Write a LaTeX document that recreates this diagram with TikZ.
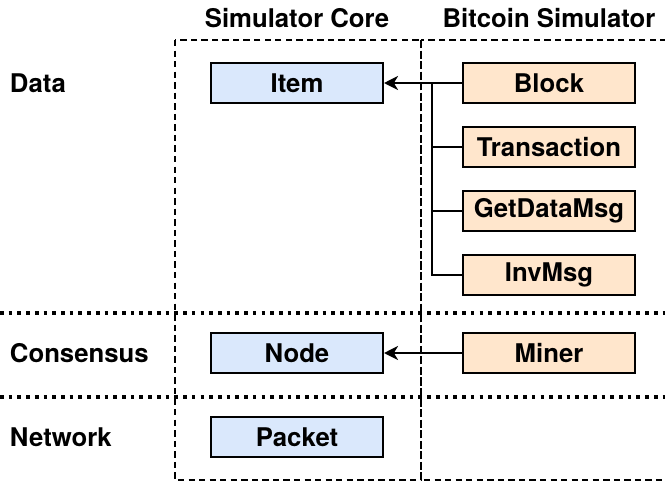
\documentclass[tikz,border=0pt]{standalone}
\usepackage{fontspec}
\setmainfont{TeX Gyre Heros}
\usepackage{tikz}
\usetikzlibrary{arrows.meta,positioning,calc}
\definecolor{coreblue}{RGB}{218,232,252}
\definecolor{btcorange}{RGB}{255,230,204}

\begin{document}
\begin{tikzpicture}[
    x=0.025cm, y=-0.025cm,
    every node/.style={font=\fontsize{18.3}{21}\selectfont\bfseries},
    core/.style={rectangle, draw, line width=1.4pt, fill=coreblue, minimum width=4.3cm, minimum height=1.0cm},
    btc/.style={rectangle, draw, line width=1.4pt, fill=btcorange, minimum width=4.3cm, minimum height=1.0cm},
    layer/.style={anchor=west},
    region/.style={line width=1.4pt, dash pattern=on 4.5pt off 3pt},
    divider/.style={line width=2.6pt, dash pattern=on 2.6pt off 3.6pt},
    arrow/.style={-{Stealth[length=10pt, width=10pt, inset=3pt]}, line width=1.4pt}
]
\useasboundingbox (0,0) rectangle (665,487);

% Regions
\draw[region] (175,40) rectangle (421,480);
\draw[region] (421,40) rectangle (668,480);
\draw[divider] (0,313) -- (665,313);
\draw[divider] (0,397) -- (665,397);

% Headers
\node (coretitle) at (297,18) {Simulator Core};
\node (btctitle) at (549,18) {Bitcoin Simulator};

% Layers
\node[layer] (data) at (5,83) {Data};
\node[layer] (consensus) at (5,353) {Consensus};
\node[layer] (network) at (5,437) {Network};

% Simulator core
\node[core] (item) at (297,83) {Item};
\node[core] (node) at (297,353) {Node};
\node[core] (packet) at (297,437) {Packet};

% Bitcoin simulator
\node[btc] (block) at (549,83) {Block};
\node[btc, below=0.55cm of block] (transaction) {Transaction};
\node[btc, below=0.55cm of transaction] (getdata) {GetDataMsg};
\node[btc, below=0.55cm of getdata] (invmsg) {InvMsg};
\node[btc] (miner) at (549,353) {Miner};

% Connections
\coordinate (bus) at ($(item.east)!0.61!(block.west)$);
\draw[arrow] (block) -- (item);
\draw[line width=1.4pt] (transaction.west) -| (bus);
\draw[line width=1.4pt] (getdata.west) -| (bus);
\draw[line width=1.4pt] (invmsg.west) -| (bus);
\draw[arrow] (miner) -- (node);

\end{tikzpicture}
\end{document}
